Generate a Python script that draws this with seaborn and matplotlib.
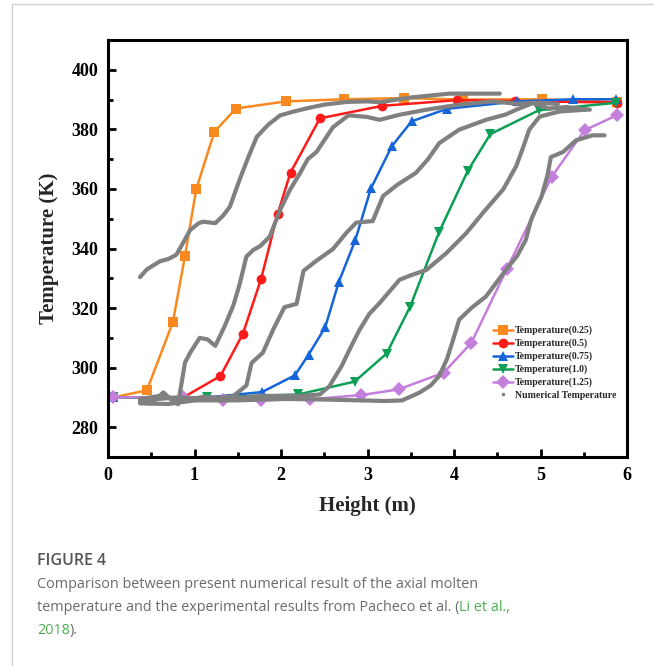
import matplotlib
matplotlib.use("Agg")

import pandas as pd
import seaborn as sns
from matplotlib import pyplot as plt
from matplotlib.lines import Line2D
from matplotlib.ticker import MultipleLocator

# experimental points (symbols)
x_025 = [0.06, 0.45, 0.75, 0.89, 1.02, 1.23, 1.48, 2.06, 2.73, 3.42, 4.10, 5.02, 5.88]
t_025 = [290.0, 292.4, 315.3, 337.5, 359.9, 379.2, 387.0, 389.4, 390.1, 390.5, 390.0, 390.1, 389.2]

x_050 = [0.06, 0.87, 1.30, 1.56, 1.77, 1.96, 2.11, 2.45, 3.17, 4.03, 4.70, 5.89]
t_050 = [290.0, 290.0, 297.2, 311.4, 329.8, 351.5, 365.5, 383.7, 387.9, 389.8, 389.5, 389.0]

x_075 = [0.06, 1.15, 1.78, 2.16, 2.32, 2.51, 2.67, 2.86, 3.04, 3.28, 3.51, 3.92, 4.73, 5.38, 5.87]
t_075 = [290.0, 290.0, 291.8, 297.4, 304.4, 313.5, 328.9, 342.9, 360.2, 374.3, 382.7, 386.9, 389.4, 390.1, 390.1]

x_100 = [0.06, 1.15, 2.20, 2.85, 3.22, 3.49, 3.83, 4.16, 4.42, 4.98, 5.87]
t_100 = [290.0, 290.0, 291.0, 295.3, 304.7, 320.3, 345.7, 366.1, 378.4, 386.4, 388.9]

x_125 = [0.06, 0.87, 1.33, 1.77, 2.34, 2.93, 3.36, 3.88, 4.20, 4.61, 5.13, 5.51, 5.88]
t_125 = [290.0, 290.1, 289.0, 289.0, 289.4, 290.8, 292.7, 298.3, 308.3, 333.1, 364.1, 379.7, 384.7]

# numerical curves (thick grey)
nx_a = [0.37, 0.45, 0.60, 0.70, 0.79, 0.86, 0.95, 1.05, 1.10, 1.24, 1.33, 1.41, 1.52, 1.62, 1.72,
        1.85, 1.99, 2.15, 2.29, 2.50, 2.76, 3.00, 3.14, 3.50, 3.95, 4.53]
nt_a = [330.4, 333.0, 335.7, 336.5, 337.9, 341.5, 346.2, 348.5, 349.0, 348.5, 351.0, 354.1, 363.0,
        370.5, 377.5, 381.5, 384.7, 386.0, 387.0, 388.3, 389.2, 389.4, 389.1, 390.7, 392.0, 392.0]

nx_b = [0.37, 0.50, 0.64, 0.72, 0.81, 0.89, 0.95, 1.06, 1.15, 1.24, 1.35, 1.45, 1.52, 1.60, 1.68,
        1.76, 1.87, 1.99, 2.10, 2.22, 2.31, 2.41, 2.60, 2.78, 2.99, 3.14, 3.37, 3.68, 4.06, 4.45,
        4.72, 5.00, 5.20]
nt_b = [288.4, 288.0, 291.7, 289.5, 287.7, 301.7, 305.0, 310.0, 309.5, 307.3, 314.0, 321.0, 327.8,
        337.3, 339.5, 340.8, 344.0, 353.0, 359.5, 365.3, 370.0, 372.4, 380.7, 384.7, 384.2, 383.2,
        384.9, 386.6, 388.3, 389.4, 388.6, 389.0, 388.5]

nx_c = [0.37, 0.60, 0.90, 1.10, 1.30, 1.45, 1.60, 1.66, 1.79, 1.91, 2.04, 2.18, 2.26, 2.41, 2.60,
        2.76, 2.87, 3.06, 3.18, 3.35, 3.56, 3.70, 3.83, 4.06, 4.37, 4.60, 4.72, 4.91, 5.10, 5.30,
        5.57]
nt_c = [289.5, 290.5, 289.0, 290.2, 289.8, 290.5, 294.0, 301.6, 305.0, 312.8, 320.3, 321.4, 332.5,
        335.9, 339.8, 345.4, 348.7, 349.2, 357.6, 361.5, 365.4, 370.0, 375.4, 379.9, 383.2, 385.0,
        386.6, 388.8, 387.0, 387.5, 386.6]

nx_d = [0.37, 0.80, 1.30, 1.80, 2.20, 2.45, 2.56, 2.70, 2.80, 2.91, 3.02, 3.14, 3.37, 3.50, 3.68,
        3.91, 4.14, 4.35, 4.57, 4.72, 4.80, 4.87, 4.99, 5.22, 5.53]
nt_d = [289.0, 290.0, 289.5, 290.5, 290.5, 291.0, 293.8, 300.5, 306.5, 312.8, 318.0, 321.7, 329.5,
        331.0, 332.8, 338.4, 345.1, 352.5, 359.9, 367.7, 374.0, 379.9, 384.3, 386.0, 386.6]

nx_e = [0.37, 0.70, 1.00, 1.50, 2.00, 2.50, 2.93, 3.20, 3.40, 3.60, 3.73, 3.83, 3.92, 3.99, 4.06,
        4.20, 4.37, 4.60, 4.73, 4.83, 4.89, 4.95, 5.01, 5.08, 5.12, 5.26, 5.41, 5.60, 5.74]
nt_e = [288.0, 287.8, 289.0, 289.0, 289.5, 289.3, 289.0, 288.8, 289.0, 291.6, 294.0, 297.2, 303.0,
        309.4, 316.1, 320.0, 323.9, 332.8, 337.5, 342.9, 349.5, 353.5, 357.3, 364.5, 370.7, 372.4,
        376.3, 378.0, 378.0]

labels = ["Temperature(0.25)", "Temperature(0.5)", "Temperature(0.75)",
          "Temperature(1.0)", "Temperature(1.25)"]
colours = ["#f7891f", "#ff1a1a", "#1565d8", "#0d9f55", "#c47fdd"]
markers = ["s", "o", "^", "v", "D"]
grey = "#808080"

exp_df = pd.concat(
    [
        pd.DataFrame({"height": x, "temp": t, "case": lab})
        for x, t, lab in zip([x_025, x_050, x_075, x_100, x_125],
                             [t_025, t_050, t_075, t_100, t_125], labels)
    ],
    ignore_index=True,
)
num_df = pd.concat(
    [
        pd.DataFrame({"height": x, "temp": t, "curve": i})
        for i, (x, t) in enumerate(zip([nx_a, nx_b, nx_c, nx_d, nx_e],
                                       [nt_a, nt_b, nt_c, nt_d, nt_e]))
    ],
    ignore_index=True,
)

sns.set_style("ticks")
plt.rcParams.update(
    {
        "font.family": ["Liberation Serif", "DejaVu Serif"],
        "font.weight": "bold",
        "axes.labelweight": "bold",
        "axes.edgecolor": "black",
        "xtick.color": "black",
        "ytick.color": "black",
    }
)

W, H = 654, 666
fig = plt.figure(figsize=(W / 100, H / 100), dpi=100)
ax = fig.add_axes([108 / W, 1 - 457 / H, 519 / W, 417 / H])

sns.lineplot(
    data=exp_df, x="height", y="temp", hue="case", style="case",
    palette=dict(zip(labels, colours)), markers=dict(zip(labels, markers)),
    dashes=False, sort=False, estimator=None, legend=False, ax=ax,
    linewidth=1.8, markersize=7, markeredgewidth=0, zorder=2,
)
sns.lineplot(
    data=num_df, x="height", y="temp", units="curve", estimator=None, sort=False,
    color=grey, linewidth=3.0, legend=False, ax=ax, zorder=3,
    solid_joinstyle="round", solid_capstyle="round",
)

ax.set_xlim(0, 6)
ax.set_ylim(270, 410)
ax.xaxis.set_major_locator(MultipleLocator(1))
ax.xaxis.set_minor_locator(MultipleLocator(0.5))
ax.yaxis.set_major_locator(MultipleLocator(20))
ax.yaxis.set_minor_locator(MultipleLocator(10))
ax.tick_params(which="both", direction="in", top=False, right=False, width=2, labelsize=13)
ax.tick_params(which="major", length=6, pad=7)
ax.tick_params(which="minor", length=3.5)
for s in ax.spines.values():
    s.set_linewidth(2.2)
    s.set_visible(True)
ax.set_xlabel("Height (m)", fontsize=15, fontweight="bold", labelpad=9)
ax.set_ylabel("Temperature (K)", fontsize=15, fontweight="bold", labelpad=9)

handles = [
    Line2D([], [], color=c, marker=m, lw=1.8, markersize=7, markeredgewidth=0, label=lab)
    for c, m, lab in zip(colours, markers, labels)
]
handles.append(Line2D([], [], color=grey, marker=".", ls="none", markersize=3,
                      label="Numerical Temperature"))
ax.legend(
    handles=handles, loc="upper left", bbox_to_anchor=(0.735, 0.324), frameon=False,
    prop={"size": 7, "weight": "bold"}, handlelength=2.0, handletextpad=0.2,
    labelspacing=0.35, borderaxespad=0,
)

# page border
fig.add_artist(Line2D([12 / W, 1], [1 - 4 / H, 1 - 4 / H], transform=fig.transFigure,
                      color="#d0d0d0", lw=1))
fig.add_artist(Line2D([12 / W, 12 / W], [0, 1 - 4 / H], transform=fig.transFigure,
                      color="#d0d0d0", lw=1))

# caption
cap_grey = "#6b6b6b"
link_green = "#4caf50"
cap_font = {"family": ["Open Sans", "DejaVu Sans"], "size": 10.4, "weight": "normal"}
fig.text(37 / W, 1 - 565 / H, "FIGURE 4", color="#555555", va="baseline",
         fontdict={"family": ["Open Sans", "DejaVu Sans"], "size": 11.5, "weight": "semibold"})
fig.text(37 / W, 1 - 588 / H, "Comparison between present numerical result of the axial molten",
         color=cap_grey, va="baseline", fontdict=cap_font)
r = fig.canvas.get_renderer()
t2 = fig.text(37 / W, 1 - 611 / H,
              "temperature and the experimental results from Pacheco et al. (",
              color=cap_grey, va="baseline", fontdict=cap_font)
bb = t2.get_window_extent(renderer=r)
fig.text(bb.x1 / W, 1 - 611 / H, "Li et al.,", color=link_green, va="baseline", fontdict=cap_font)
t3 = fig.text(37 / W, 1 - 634 / H, "2018", color=link_green, va="baseline", fontdict=cap_font)
bb = t3.get_window_extent(renderer=r)
fig.text(bb.x1 / W, 1 - 634 / H, ").", color=cap_grey, va="baseline", fontdict=cap_font)

fig.savefig("out.png", dpi=100)
